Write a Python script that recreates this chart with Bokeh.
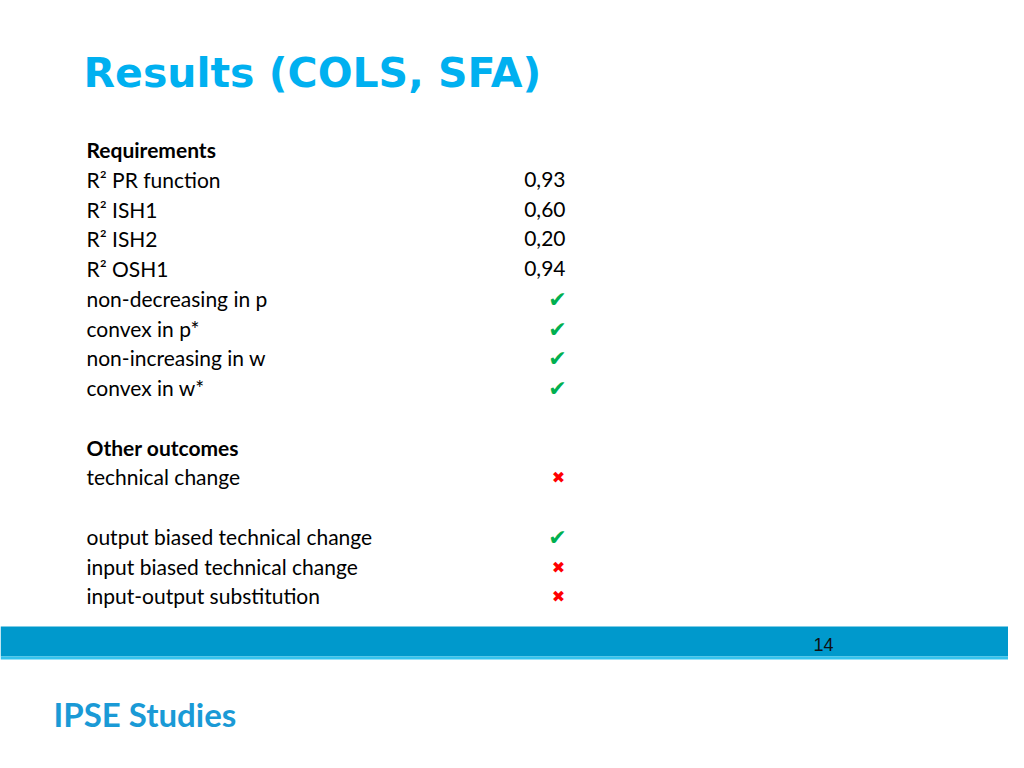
from bokeh.plotting import figure
from bokeh.models import ColumnDataSource
from bokeh.core.properties import value
from bokeh.embed import file_html
from bokeh.resources import INLINE

title = "Results (COLS, SFA)"
labels = ["Requirements", "R² PR function", "R² ISH1", "R² ISH2", "R² OSH1",
          "non-decreasing in p", "convex in p*", "non-increasing in w", "convex in w*",
          "", "Other outcomes", "technical change", "",
          "output biased technical change", "input biased technical change",
          "input-output substitution"]
is_header = [True, False, False, False, False, False, False, False, False,
             False, True, False, False, False, False, False]
values = ["", "0,93", "0,60", "0,20", "0,94", "", "", "", "", "", "", "", "", "", "", ""]
marks = ["", "", "", "", "", "yes", "yes", "yes", "yes", "", "", "no", "", "yes", "no", "no"]
page_number = "14"
footer = "IPSE Studies"

W, H = 1008, 752
p = figure(width=W, height=H, x_range=(0, W), y_range=(H, 0),
           output_backend="svg", toolbar_location=None, min_border=0)
p.axis.visible = False
p.grid.visible = False
p.outline_line_color = None
p.background_fill_color = "white"
p.border_fill_color = "white"

body_font = value("Lato")
fs = "21px"
row0, step = 149, 29.75
ys = [row0 + i * step for i in range(len(labels))]

norm = ColumnDataSource(dict(x=[86] * sum(1 for h in is_header if not h),
                             y=[y for y, h in zip(ys, is_header) if not h],
                             t=[l for l, h in zip(labels, is_header) if not h]))
bold = ColumnDataSource(dict(x=[86] * sum(is_header),
                             y=[y for y, h in zip(ys, is_header) if h],
                             t=[l for l, h in zip(labels, is_header) if h]))
p.text("x", "y", "t", source=norm, text_font=body_font, text_font_size=fs,
       text_color="#000000", text_baseline="middle", text_align="left")
p.text("x", "y", "t", source=bold, text_font=body_font, text_font_size=fs,
       text_font_style="bold", text_color="#000000", text_baseline="middle", text_align="left")

vsrc = ColumnDataSource(dict(x=[565] * sum(1 for v in values if v),
                             y=[y for y, v in zip(ys, values) if v],
                             t=[v for v in values if v]))
p.text("x", "y", "t", source=vsrc, text_font=body_font, text_font_size=fs,
       text_color="#000000", text_baseline="middle", text_align="right")

ok = ColumnDataSource(dict(x=[557] * marks.count("yes"),
                           y=[y + 1 for y, m in zip(ys, marks) if m == "yes"],
                           t=["✔"] * marks.count("yes")))
no = ColumnDataSource(dict(x=[558] * marks.count("no"),
                           y=[y + 1 for y, m in zip(ys, marks) if m == "no"],
                           t=["✖"] * marks.count("no")))
p.text("x", "y", "t", source=ok, text_font=value("DejaVu Sans"), text_font_size="22px",
       text_color="#00B050", text_baseline="middle", text_align="center")
p.text("x", "y", "t", source=no, text_font=value("DejaVu Sans"), text_font_size="16px",
       text_color="#FF0000", text_baseline="middle", text_align="center")

p.text([83], [72], [title], text_font=value("DejaVu Sans"), text_font_size="41px",
       text_font_style="bold", text_color="#00B0F0", text_baseline="middle", text_align="left")

p.quad(left=[0], right=[W], top=[626], bottom=[656], fill_color="#0099CC", line_color=None)
p.quad(left=[0], right=[W], top=[656], bottom=[659], fill_color="#33C3EE", line_color=None)
p.text([823], [644], [page_number], text_font=value("Liberation Sans"), text_font_size="18px",
       text_color="#111111", text_baseline="middle", text_align="center")

p.text([53], [713], [footer], text_font=value("Lato"), text_font_size="33px",
       text_font_style="bold", text_color="#1A9AD6", text_baseline="middle", text_align="left")

open("out.html", "w").write(file_html(p, INLINE))
